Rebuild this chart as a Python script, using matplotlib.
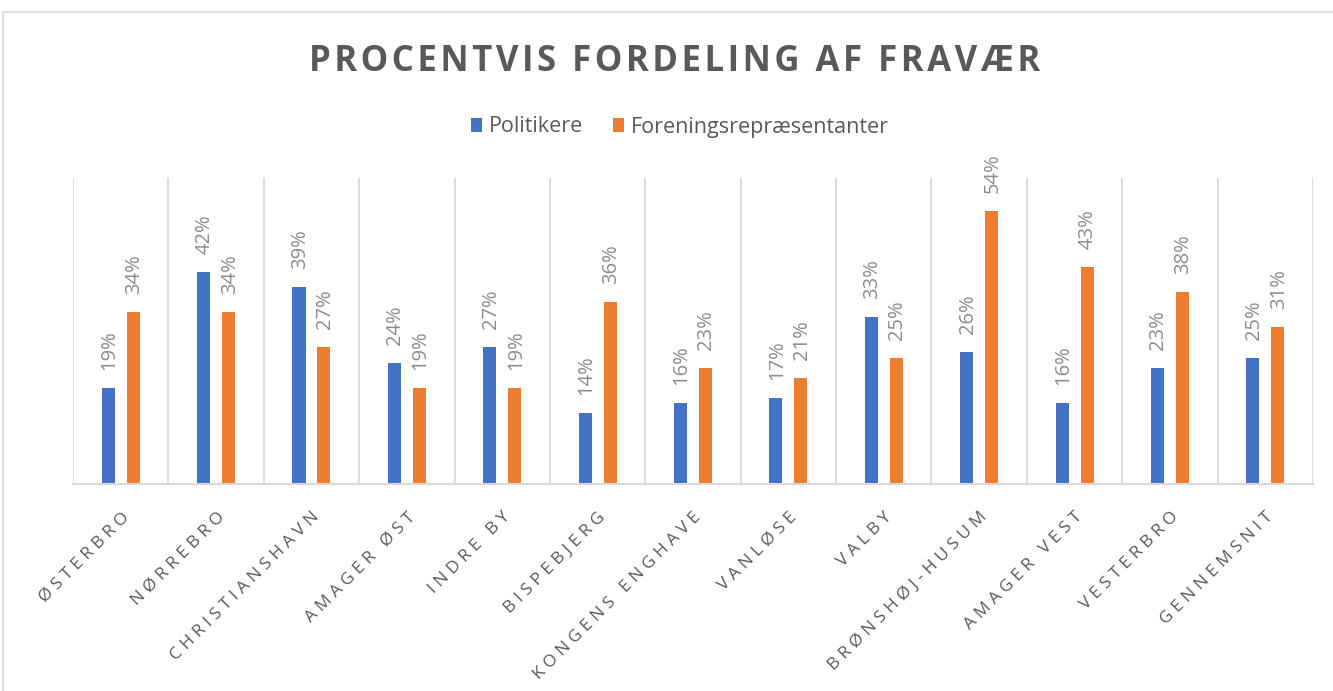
import matplotlib.pyplot as plt
import matplotlib.patches as mpatches
import numpy as np

categories = ['ØSTERBRO', 'NØRREBRO', 'CHRISTIANSHAVN', 'AMAGER ØST', 'INDRE BY',
              'BISPEBJERG', 'KONGENS ENGHAVE', 'VANLØSE', 'VALBY', 'BRØNSHØJ-HUSUM',
              'AMAGER VEST', 'VESTERBRO', 'GENNEMSNIT']
politikere = [19, 42, 39, 24, 27, 14, 16, 17, 33, 26, 16, 23, 25]
forening = [34, 34, 27, 19, 19, 36, 23, 21, 25, 54, 43, 38, 31]

blue = '#4472c4'
orange = '#ed7d31'
grid_col = '#d9d9d9'
text_col = '#595959'

plt.rcParams['font.family'] = ['Open Sans', 'DejaVu Sans']

def spaced(s, gap='\u200a'):
    # widen the letter spacing, office chart style
    return gap.join(s)

fig = plt.figure(figsize=(13.33, 6.91), dpi=100)

# outer chart frame
fig.patches.append(mpatches.Rectangle((3 / 1333, -0.05), 1.2, 1 - 12 / 691 + 0.05,
                                      transform=fig.transFigure, fill=False,
                                      edgecolor=grid_col, linewidth=1.2))

ax = fig.add_axes([73 / 1333, 1 - 484 / 691, (1313 - 73) / 1333, (484 - 178) / 691])
x = np.arange(len(categories))
w = 0.137
off = 0.131
ax.bar(x - off, politikere, width=w, color=blue, label='Politikere')
ax.bar(x + off, forening, width=w, color=orange, label='Foreningsrepræsentanter')

for xs, vals in ((x - off, politikere), (x + off, forening)):
    for xi, v in zip(xs, vals):
        ax.annotate(f'{v}%', (xi, v), xytext=(1, 18), textcoords='offset pixels',
                    rotation=90, ha='center', va='bottom', fontsize=14.5, color='#8c8c8c')

ax.set_xlim(-0.5, len(categories) - 0.5)
ax.set_ylim(0, 60.5)
for b in np.arange(-0.5, len(categories), 1):
    ax.axvline(b, color=grid_col, linewidth=1.3, zorder=0)
for s in ['top', 'right', 'left']:
    ax.spines[s].set_visible(False)
ax.spines['bottom'].set_color(grid_col)
ax.spines['bottom'].set_linewidth(1.5)
ax.set_yticks([])
ax.set_xticks(x)
ax.set_xticklabels([spaced(c, ' ') for c in categories],
                   rotation=45, ha='right', va='top', rotation_mode='anchor',
                   fontsize=12.5, color=text_col)
ax.tick_params(axis='x', length=0, pad=18)

fig.text(0.506, 1 - 62 / 691, spaced('PROCENTVIS FORDELING AF FRAVÆR'), ha='center', va='center',
         fontsize=25, fontweight='bold', color=text_col)

fig.legend(loc='center', bbox_to_anchor=(0.51, 1 - 127 / 691), ncol=2, frameon=False,
           fontsize=15.5, handlelength=0.52, handleheight=0.6, handletextpad=0.3,
           columnspacing=1.4, labelcolor=text_col)

fig.savefig('out.png', dpi=100)
